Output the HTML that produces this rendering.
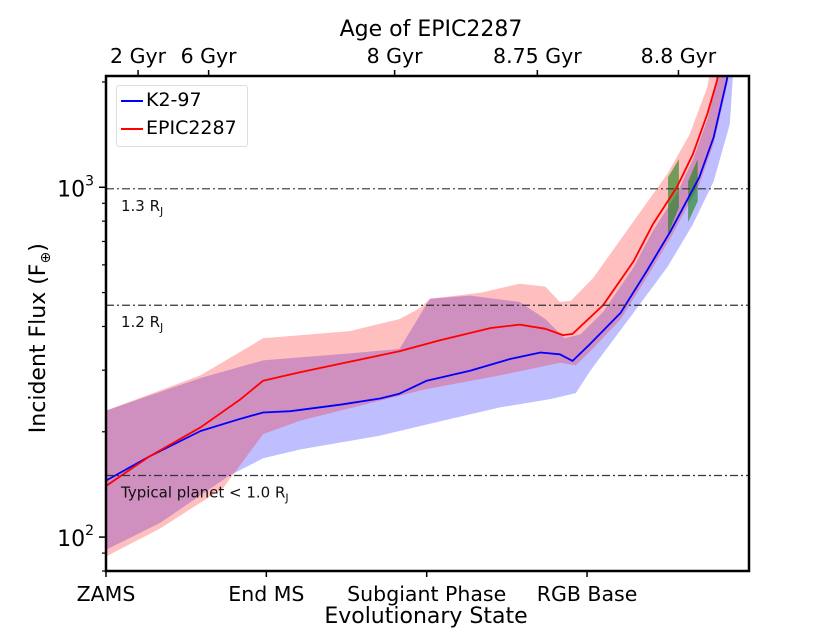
<!DOCTYPE html>
<html><head><meta charset="utf-8"><style>
body{margin:0;background:#fff;}
svg{display:block;font-family:"DejaVu Sans","Liberation Sans",sans-serif;}
</style></head><body>
<svg id="c" width="830" height="642" viewBox="0 0 830 642"></svg>
<script>
const stateTicks=[0,1,2,3];
const stateLabels=["ZAMS","End MS","Subgiant Phase","RGB Base"];
const ageTicks=[0.2,0.64,1.8,2.69,3.57];
const ageLabels=["2 Gyr","6 Gyr","8 Gyr","8.75 Gyr","8.8 Gyr"];
const refLevels=[990,460,150];
const refLabels=["1.3 R","1.2 R","Typical planet  < 1.0 R"];
const k2X=[0,0.27,0.59,0.84,0.98,1.15,1.46,1.71,1.83,2.0,2.27,2.52,2.71,2.83,2.91,3.02,3.21,3.37,3.52,3.62,3.70,3.79,3.87,3.92];
const k2Y=[145,170,201,218,227,229,239,249,257,280,299,323,337,333,319,357,438,574,748,912,1068,1391,2012,2600];
const epX=[0,0.27,0.59,0.84,0.98,1.21,1.52,1.83,2.08,2.40,2.58,2.74,2.85,2.91,3.10,3.29,3.41,3.56,3.66,3.75,3.81,3.86];
const epY=[140,170,206,248,280,296,317,340,365,396,405,394,378,381,460,614,783,1000,1243,1619,2012,2600];
const epUpX=[0,0.59,0.98,1.52,1.83,1.96,2.02,2.34,2.58,2.74,2.83,2.90,3.04,3.29,3.50,3.64,3.75,3.80];
const epUpY=[230,290,370,388,420,452,480,500,530,520,470,474,552,799,1090,1419,1934,2600];
const epLoX=[0,0.34,0.73,0.98,1.21,2.0,2.46,2.83,2.93,3.02,3.21,3.37,3.52,3.62,3.70,3.79,3.87,3.93];
const epLoY=[88,106,138,197,215,265,290,315,310,340,420,550,715,870,1020,1330,1930,2700];
const k2UpX=[0,0.59,0.98,1.52,1.83,2.02,2.27,2.58,2.74,2.86,2.96,3.10,3.29,3.41,3.56,3.66,3.75,3.82,3.86];
const k2UpY=[230,285,320,335,345,480,490,470,420,370,380,440,590,750,960,1200,1560,2100,2700];
const k2LoX=[0,0.34,0.77,0.98,1.21,1.71,2.08,2.46,2.77,2.93,3.02,3.29,3.50,3.66,3.79,3.89,3.91,3.93];
const k2LoY=[92,110,150,168,178,195,214,235,248,258,299,438,590,783,1040,1515,2100,2700];
const patch1X=[3.505,3.573,3.573,3.505];
const patch1Y=[1068,1203,876,733];
const patch2X=[3.63,3.69,3.69,3.63];
const patch2Y=[1040,1203,912,794];

const L=106,R=749,T=76,B=571;
const X0=0,X1=4.01;
const Y0=Math.log10(80),Y1=Math.log10(2080);
const sx=v=>L+(v-X0)/(X1-X0)*(R-L);
const sy=v=>B-(Math.log10(v)-Y0)/(Y1-Y0)*(B-T);
const NS="http://www.w3.org/2000/svg";
const svg=document.getElementById('c');
function el(tag,attrs,parent){const e=document.createElementNS(NS,tag);for(const k in attrs)e.setAttribute(k,attrs[k]);(parent||svg).appendChild(e);return e;}
const defs=el('defs',{});
const cp=el('clipPath',{id:'clip'},defs);
el('rect',{x:L,y:T,width:R-L,height:B-T},cp);
const g=el('g',{'clip-path':'url(#clip)'});
function pts(xs,ys){return xs.map((x,i)=>sx(x).toFixed(1)+','+sy(ys[i]).toFixed(1));}
function band(ux,uy,lx,ly,fill,name){
  const p=pts(ux,uy).concat(pts(lx,ly).reverse());
  const e=el('polygon',{points:p.join(' '),fill:fill,stroke:'none'},g);
  
  
}
band(k2UpX,k2UpY,k2LoX,k2LoY,'rgba(0,0,255,0.25)','k2-97-band');
band(epUpX,epUpY,epLoX,epLoY,'rgba(255,0,0,0.25)','epic2287-band');
[[patch1X,patch1Y,'green-patch-1'],[patch2X,patch2Y,'green-patch-2']].forEach(([xs,ys,n])=>{
  const e=el('polygon',{points:pts(xs,ys).join(' '),fill:'rgba(0,128,0,0.55)'},g);
  
  
});
refLevels.forEach((v,i)=>{
  const y=sy(v);
  const e=el('line',{x1:L,x2:R,y1:y,y2:y,stroke:'#333','stroke-width':1.2,'stroke-dasharray':'8,3,2,3'});
  
  
  const t=el('text',{x:121,y:y+22,'font-size':15,fill:'#111'});
  t.textContent=refLabels[i];
  const s=el('tspan',{'font-size':11,dy:4},t);s.textContent='J';
  
  
});
function line(xs,ys,c,n){
  const e=el('polyline',{points:pts(xs,ys).join(' '),fill:'none',stroke:c,'stroke-width':1.8,'stroke-linejoin':'round'},g);
  
  
}
line(k2X,k2Y,'#0000ff','k2-97-line');
line(epX,epY,'#ff0000','epic2287-line');
el('rect',{x:L,y:T,width:R-L,height:B-T,fill:'none',stroke:'#000','stroke-width':2.5,});
for(let d=1;d<=3;d++){for(let m=1;m<10;m++){const v=m*Math.pow(10,d);if(v<80||v>2080)continue;const y=sy(v);
  el('line',{x1:L-(m==1?7:4),x2:L,y1:y,y2:y,stroke:'#000','stroke-width':m==1?1.5:1.2});
  if(m==1){const t=el('text',{x:L-12,y:y+9,'font-size':22,'text-anchor':'end'});t.textContent='10';const s=el('tspan',{'font-size':14,dy:-11},t);s.textContent=d;
  
  }
}}
stateTicks.forEach((v,i)=>{const x=sx(v);el('line',{x1:x,x2:x,y1:B,y2:B+6,stroke:'#000','stroke-width':1.5});
  const t=el('text',{x:x,y:B+30,'font-size':20.5,'text-anchor':'middle'});t.textContent=stateLabels[i];
  
  });
ageTicks.forEach((v,i)=>{const x=sx(v);el('line',{x1:x,x2:x,y1:T-6,y2:T,stroke:'#000','stroke-width':1.5});
  const t=el('text',{x:x,y:T-13,'font-size':20.5,'text-anchor':'middle'});t.textContent=ageLabels[i];
  
  });
</script>
<div style="position:absolute;left:0;top:0;width:830px;height:642px;pointer-events:none;font-family:'DejaVu Sans','Liberation Sans',sans-serif;">
  <div style="position:absolute;left:0;width:862px;top:17px;text-align:center;font-size:22px;">Age of EPIC2287</div>
  <div style="position:absolute;left:0;width:852px;top:604px;text-align:center;font-size:22px;">Evolutionary State</div>
  <div style="position:absolute;left:-80px;top:324px;width:240px;text-align:center;font-size:22px;transform:rotate(-90deg);">Incident Flux (F<sub style="font-size:14px">⊕</sub>)</div>
  <div style="position:absolute;left:116px;top:85px;width:130px;height:60px;border:1px solid #ddd;border-radius:3px;background:#fff;font-size:19px;">
    <div style="position:absolute;left:4px;top:3px;white-space:nowrap;"><span style="display:inline-block;width:22px;height:2px;background:#00f;vertical-align:middle;margin-right:3px"></span>K2-97</div>
    <div style="position:absolute;left:4px;top:31px;white-space:nowrap;"><span style="display:inline-block;width:22px;height:2px;background:#f00;vertical-align:middle;margin-right:3px"></span>EPIC2287</div>
  </div>
</div>
</body></html>
